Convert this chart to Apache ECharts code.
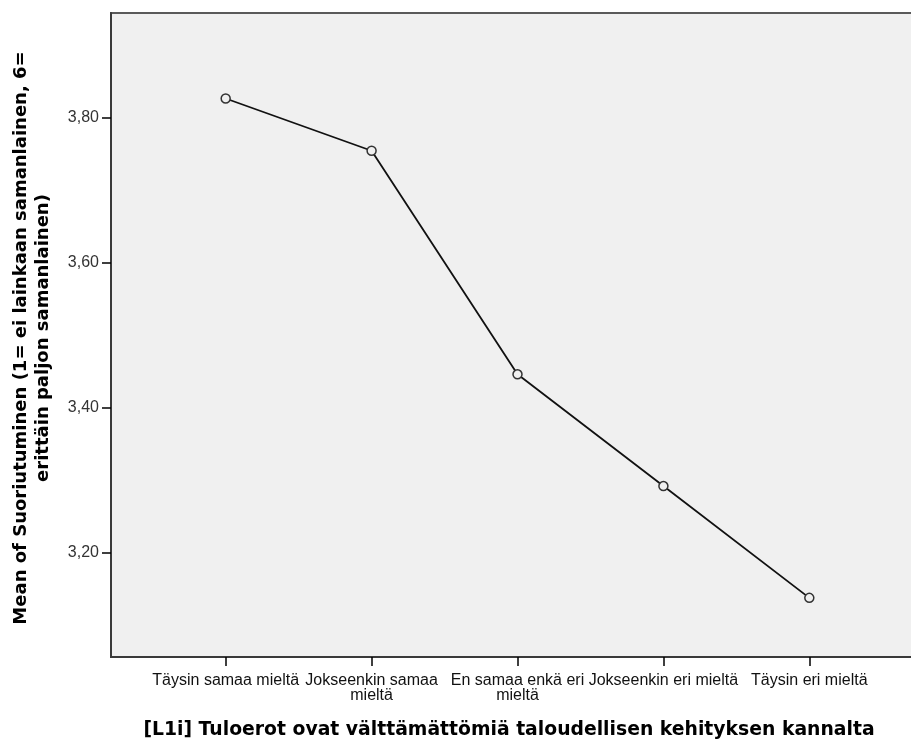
<!DOCTYPE html>
<html>
<head>
<meta charset="utf-8">
<script src="https://cdn.jsdelivr.net/npm/echarts@6/dist/echarts.min.js"></script>
<style>
  html, body { margin: 0; padding: 0; background: #ffffff; }
  #chart { width: 911px; height: 740px; }
</style>
</head>
<body>
<div id="chart"></div>
<script>
// ---- Data ----
const categories = [
  'Täysin samaa mieltä',
  'Jokseenkin samaa\nmieltä',
  'En samaa enkä eri\nmieltä',
  'Jokseenkin eri mieltä',
  'Täysin eri mieltä'
];
const meanValues = [3.826, 3.754, 3.446, 3.292, 3.138];
const yTickValues = [3.2, 3.4, 3.6, 3.8];
const xTitle = '[L1i] Tuloerot ovat välttämättömiä taloudellisen kehityksen kannalta';
const yTitle = 'Mean of Suoriutuminen (1= ei lainkaan samanlainen, 6=\nerittäin paljon samanlainen)';

const catIndex = categories.map((c, i) => i);
const seriesData = meanValues.map((v, i) => [catIndex[i], v]);

const FONT = "'Liberation Sans', Arial, sans-serif";
const BOLDFONT = "'DejaVu Sans', 'Liberation Sans', Arial, sans-serif";

const chart = echarts.init(document.getElementById('chart'), null, { renderer: 'canvas' });
chart.setOption({
  backgroundColor: '#ffffff',
  animation: false,
  grid: {
    left: 111, top: 13, width: 813, height: 644,
    show: true,
    backgroundColor: '#f0f0f0',
    borderColor: '#5a5a5a',
    borderWidth: 2,
    containLabel: false,
    outerBoundsMode: 'none'
  },
  xAxis: {
    type: 'value',
    min: -0.786, max: 4.786,
    name: xTitle,
    nameLocation: 'middle',
    nameGap: 64,
    nameTextStyle: { fontFamily: BOLDFONT, fontSize: 18.8, fontWeight: 'bold', color: '#000', padding: [0, 17, 0, 0] },
    axisLine: { show: true, onZero: false, lineStyle: { color: '#3a3a3a', width: 2 } },
    axisTick: { show: true, inside: false, length: 9, customValues: catIndex, lineStyle: { color: '#000', width: 1.5 } },
    axisLabel: {
      show: true, customValues: catIndex, margin: 16,
      fontFamily: FONT, fontSize: 16, lineHeight: 15, color: '#111',
      formatter: v => categories[Math.round(v)]
    },
    splitLine: { show: false }
  },
  yAxis: {
    type: 'value',
    min: 3.0565, max: 3.9438,
    name: yTitle,
    nameLocation: 'middle',
    nameGap: 57,
    nameTextStyle: { fontFamily: BOLDFONT, fontSize: 18, fontWeight: 'bold', color: '#000', lineHeight: 22, padding: [0, 6, 0, 0] },
    axisLine: { show: true, onZero: false, lineStyle: { color: '#3a3a3a', width: 2 } },
    axisTick: { show: true, inside: false, length: 9, customValues: yTickValues, lineStyle: { color: '#000', width: 1.5 } },
    axisLabel: {
      show: true, customValues: yTickValues, margin: 12,
      fontFamily: FONT, fontSize: 16, color: '#333',
      formatter: v => v.toFixed(2).replace('.', ',')
    },
    splitLine: { show: false }
  },
  series: [{
    type: 'line',
    data: seriesData,
    symbol: 'circle',
    symbolSize: 9,
    lineStyle: { color: '#111', width: 1.8 },
    itemStyle: { color: '#f0f0f0', borderColor: '#333', borderWidth: 1.5 },
    z: 3
  }]
});
</script>
</body>
</html>
